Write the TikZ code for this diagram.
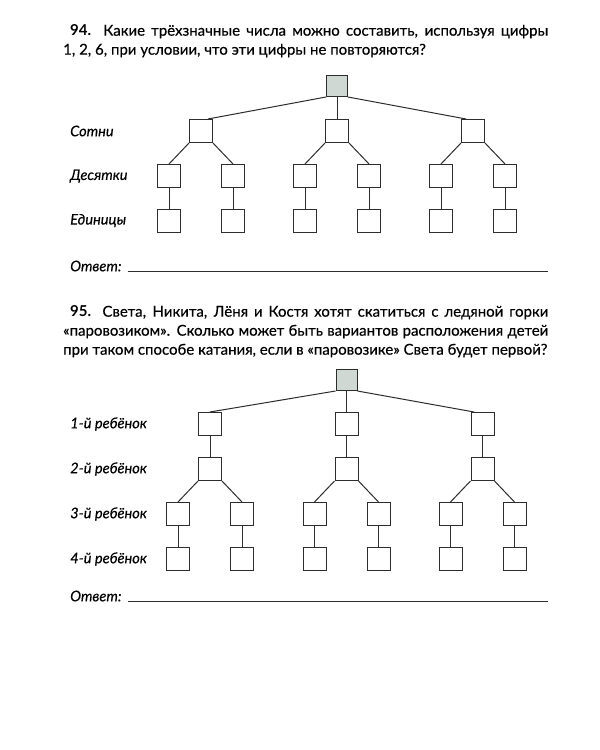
\documentclass[tikz,border=0pt]{standalone}
\usepackage{fontspec}
\setmainfont{Lato}[UprightFeatures={FakeBold=0.35}, ItalicFeatures={FakeBold=0.35}]
\usetikzlibrary{positioning}
\definecolor{rootfill}{RGB}{208,216,211}
\definecolor{inkgray}{RGB}{45,45,45}
\tikzset{
  cell/.style={draw=inkgray, line width=1pt, minimum size=23pt, inner sep=0pt},
  rootcell/.style={cell, fill=rootfill, minimum size=21pt},
  link/.style={draw=inkgray, line width=1pt},
  lbl/.style={anchor=west, inner sep=0pt, font=\itshape\fontsize{14.6}{17}\selectfont},
  task/.style={anchor=north west, inner sep=0pt, text width=485pt, align=justify,
    font=\fontsize{15}{19}\selectfont},
  answerline/.style={draw=inkgray, line width=0.6pt}
}
\begin{document}
\begin{tikzpicture}[x=1pt, y=-1pt]
  \fill[white] (0,0) rectangle (600,750);
  \useasboundingbox (0,0) rectangle (600,750);

  % task 94
  \node[task] (task94) at (63,24.5) {\hspace*{7pt}\textbf{94.} Какие трёхзначные числа можно составить, используя цифры\linebreak
    1, 2, 6, при условии, что эти цифры не повторяются?};

  \node[rootcell] (r) at (337,86) {};
  \foreach \i/\x in {1/201,2/337,3/473}{
    \node[cell] (h\i) at (\x,131) {};
    \node[cell] (tl\i) at (\x-32,176) {};
    \node[cell] (tr\i) at (\x+32,176) {};
    \node[cell] (ul\i) at (\x-32,220.5) {};
    \node[cell] (ur\i) at (\x+32,220.5) {};
    \draw[link] (h\i.south west) -- (tl\i.north);
    \draw[link] (h\i.south east) -- (tr\i.north);
    \draw[link] (tl\i) -- (ul\i);
    \draw[link] (tr\i) -- (ur\i);
  }
  \draw[link] (r.south west) -- (h1.60);
  \draw[link] (r) -- (h2);
  \draw[link] (r.south east) -- (h3.120);

  \node[lbl] (sotni) at (70,131) {Сотни};
  \node[lbl] (desyatki) at (70,176) {Десятки};
  \node[lbl] (edinicy) at (70,220.5) {Единицы};

  \node[lbl] (otvet94) at (70,266) {Ответ:};
  \coordinate (ans94a) at (128,271);
  \coordinate (ans94b) at (548,271);
  \draw[answerline] (ans94a) -- (ans94b);

  % task 95
  \node[task] (task95) at (63,305.5) {\hspace*{7pt}\textbf{95.} Света, Никита, Лёня и Костя хотят скатиться с ледяной горки\linebreak
    «паровозиком». Сколько может быть вариантов расположения детей\linebreak
    при таком способе катания, если в «паровозике» Света будет первой?};

  \node[rootcell] (s) at (346.5,380) {};
  \foreach \i/\x in {1/210,2/346.5,3/482.5}{
    \node[cell] (k\i) at (\x,424) {};
    \node[cell] (m\i) at (\x,469) {};
    \node[cell] (nl\i) at (\x-32,514) {};
    \node[cell] (nr\i) at (\x+32,514) {};
    \node[cell] (ol\i) at (\x-32,559) {};
    \node[cell] (or\i) at (\x+32,559) {};
    \draw[link] (k\i) -- (m\i);
    \draw[link] (m\i.south west) -- (nl\i.north);
    \draw[link] (m\i.south east) -- (nr\i.north);
    \draw[link] (nl\i) -- (ol\i);
    \draw[link] (nr\i) -- (or\i);
  }
  \draw[link] (s.south west) -- (k1.north);
  \draw[link] (s) -- (k2);
  \draw[link] (s.south east) -- (k3.125);

  \node[lbl] (first) at (70,424) {1-й ребёнок};
  \node[lbl] (second) at (70,469) {2-й ребёнок};
  \node[lbl] (third) at (70,514) {3-й ребёнок};
  \node[lbl] (fourth) at (70,559) {4-й ребёнок};

  \node[lbl] (otvet95) at (70,596) {Ответ:};
  \coordinate (ans95a) at (128,601);
  \coordinate (ans95b) at (548,601);
  \draw[answerline] (ans95a) -- (ans95b);
\end{tikzpicture}
\end{document}
